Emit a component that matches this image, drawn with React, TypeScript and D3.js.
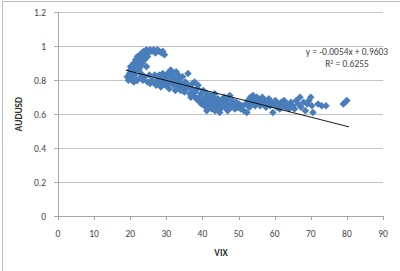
import React from "react";
import * as d3 from "d3";

const xTicks = [0, 10, 20, 30, 40, 50, 60, 70, 80, 90];
const yTicks = [0, 0.2, 0.4, 0.6, 0.8, 1, 1.2];
const trendSlope = -0.0054;
const trendIntercept = 0.9603;
const trendRange = [18.8, 80.6];

const clusterA: [number, number][] = [
  [19.2,0.82],[19.5,0.80],[19.8,0.84],[20.0,0.86],[20.3,0.82],[20.1,0.88],[20.6,0.85],[20.8,0.87],[21.0,0.90],[21.3,0.88],
  [21.5,0.92],[21.8,0.90],[22.0,0.94],[22.2,0.91],[22.5,0.93],[22.8,0.95],[21.2,0.83],[20.5,0.80],[21.7,0.80],[22.4,0.86],
  [22.9,0.88],[23.3,0.90],[23.6,0.93],[23.2,0.96],[23.8,0.97],[24.2,0.95],[24.5,0.98],[25.0,0.96],[25.5,0.98],[26.0,0.97],
  [26.5,0.98],[27.0,0.96],[27.5,0.98],[28.0,0.97],[28.7,0.96],[29.0,0.97],[29.5,0.95],[24.0,0.92],[24.8,0.94],[23.0,0.84],
  [24.0,0.82],[24.5,0.88],[25.3,0.83],[22.0,0.80],[23.5,0.80],[24.8,0.79],[25.5,0.78],[26.0,0.80],[26.8,0.83],[26.3,0.79],
  [23.0,0.82],[21.0,0.79],[22.3,0.89],[21.4,0.86],
];
const clusterB: [number, number][] = [
  [27.5,0.80],[28,0.78],[28.5,0.76],[28.3,0.81],[29,0.79],[29.5,0.82],[29.8,0.77],[30,0.80],[30.3,0.84],[30.6,0.78],
  [30.8,0.75],[31,0.82],[31.2,0.86],[31.5,0.79],[31.8,0.84],[32,0.77],[32.2,0.81],[32.5,0.74],[32.7,0.85],[33,0.79],
  [33.3,0.83],[33.5,0.76],[33.8,0.81],[34,0.74],[34.2,0.78],[34.5,0.82],[34.8,0.76],[35,0.73],[35.3,0.79],[35.6,0.75],
  [36,0.84],[36.2,0.77],[36.5,0.72],[37,0.75],[37.3,0.78],[29,0.84],[28,0.83],[27.2,0.77],
];
const clusterC: [number, number][] = [
  [37.5,0.71],[38,0.73],[38.3,0.69],[38.6,0.75],[39,0.70],[39.3,0.67],[39.6,0.72],[40,0.68],[40.2,0.74],[40.5,0.65],
  [40.8,0.70],[41,0.67],[41.3,0.72],[41.5,0.64],[41.8,0.69],[42,0.66],[42.3,0.71],[42.6,0.63],[42.8,0.68],[43,0.65],
  [43.2,0.70],[43.5,0.62],[43.8,0.67],[44,0.64],[44.3,0.69],[44.6,0.66],[45,0.63],[45.3,0.68],[45.6,0.65],[46,0.70],
  [46.3,0.64],[46.6,0.67],[47,0.62],[47.3,0.66],[47.6,0.71],[48,0.64],[48.3,0.68],[48.6,0.65],[49,0.63],[49.4,0.67],
  [49.8,0.64],[50.2,0.66],[50.6,0.63],[51,0.65],[51.5,0.62],[38.8,0.77],[37.8,0.79],[36.8,0.70],[39.8,0.66],[41.2,0.62],
  [44.8,0.61],[46.8,0.69],[43.4,0.72],
];
const clusterD: [number, number][] = [
  [52,0.66],[52.3,0.61],[52.6,0.68],[53,0.64],[53.3,0.70],[53.6,0.66],[54,0.71],[54.3,0.68],[54.6,0.65],[55,0.70],
  [55.3,0.67],[55.6,0.69],[56,0.65],[56.3,0.68],[56.6,0.70],[57,0.66],[57.3,0.68],[57.6,0.64],[58,0.67],[58.4,0.69],
  [58.8,0.65],[59.2,0.67],[59.5,0.61],[59.8,0.66],[60.2,0.68],[60.6,0.64],[61,0.66],[61.4,0.63],[61.8,0.67],[62.2,0.65],
  [62.6,0.68],[63,0.64],[63.5,0.66],[64,0.63],[64.5,0.67],[65,0.65],[65.5,0.63],[66,0.68],[66.5,0.66],[67,0.70],
  [67.3,0.64],[68,0.67],[68.5,0.62],[69,0.66],[69.5,0.68],[70,0.70],[70.3,0.65],[70.6,0.61],[72,0.66],[73,0.65],
  [74.2,0.65],[79,0.66],[80,0.68],[79.5,0.67],
];
const points = [...clusterA, ...clusterB, ...clusterC, ...clusterD];

const W = 400, H = 271;
const plot = { left: 58, right: 383, top: 12.3, bottom: 216 };
const font = "Calibri, Carlito, 'Liberation Sans', Arial, sans-serif";

export default function App() {
  const x = d3.scaleLinear().domain([0, 90]).range([plot.left, plot.right]);
  const y = d3.scaleLinear().domain([0, 1.2]).range([plot.bottom, plot.top]);
  const diamond = d3.symbol().type(d3.symbolDiamond2).size(36)();
  const tx = trendRange;
  return (
    <svg width={W} height={H} style={{ position: "absolute", left: 0, top: 0, background: "#fff" }}>
      <rect x={2.5} y={1.5} width={W} height={H} fill="#fff" stroke="#bcbcbc" />
      {yTicks.map((t) => (
        <g key={"y" + t}>
          {t > 0 && (
            <line x1={plot.left} x2={plot.right} y1={Math.round(y(t)) + 0.5} y2={Math.round(y(t)) + 0.5} stroke="#c4c4c4" />
          )}
          <line x1={plot.left - 4} x2={plot.left} y1={Math.round(y(t)) + 0.5} y2={Math.round(y(t)) + 0.5} stroke="#a6a6a6" />
          <text x={46} y={y(t) + 3.5} textAnchor="end" fontSize={9.5} fill="#444" fontFamily={font}>
            {t === 0 ? "0" : String(t)}
          </text>
        </g>
      ))}
      {xTicks.map((t) => (
        <g key={"x" + t}>
          <line x1={Math.round(x(t)) + 0.5} x2={Math.round(x(t)) + 0.5} y1={plot.bottom} y2={plot.bottom + 4} stroke="#a6a6a6" />
          <text x={x(t)} y={237} textAnchor="middle" fontSize={9.5} fill="#444" fontFamily={font}>
            {t}
          </text>
        </g>
      ))}
      <line x1={plot.left + 0.5} x2={plot.left + 0.5} y1={plot.top} y2={plot.bottom} stroke="#a6a6a6" />
      <line x1={plot.left} x2={plot.right} y1={plot.bottom + 0.5} y2={plot.bottom + 0.5} stroke="#a6a6a6" />
      {points.map((p, i) => (
        <path key={i} d={diamond!} transform={`translate(${x(p[0])},${y(p[1])})`} fill="#4a7ebb" />
      ))}
      <line
        x1={x(tx[0])}
        y1={y(trendSlope * tx[0] + trendIntercept)}
        x2={x(tx[1])}
        y2={y(trendSlope * tx[1] + trendIntercept)}
        stroke="#000"
        strokeWidth={0.9}
      />
      <text x={347} y={55} textAnchor="middle" fontSize={9.5} fill="#444" fontFamily={font}>
        y = -0.0054x + 0.9603
      </text>
      <text x={347} y={67} textAnchor="middle" fontSize={9.5} fill="#444" fontFamily={font}>
        R<tspan dy={-3} fontSize={6}>2</tspan><tspan dy={3}> = 0.6255</tspan>
      </text>
      <text
        transform={`translate(22,${(plot.top + plot.bottom) / 2}) rotate(-90)`}
        textAnchor="middle"
        fontSize={9.5}
        fontWeight="bold"
        fill="#333"
        fontFamily={font}
      >
        AUDUSD
      </text>
      <text x={221} y={256} textAnchor="middle" fontSize={9.5} fontWeight="bold" fill="#333" fontFamily={font}>
        VIX
      </text>
    </svg>
  );
}
